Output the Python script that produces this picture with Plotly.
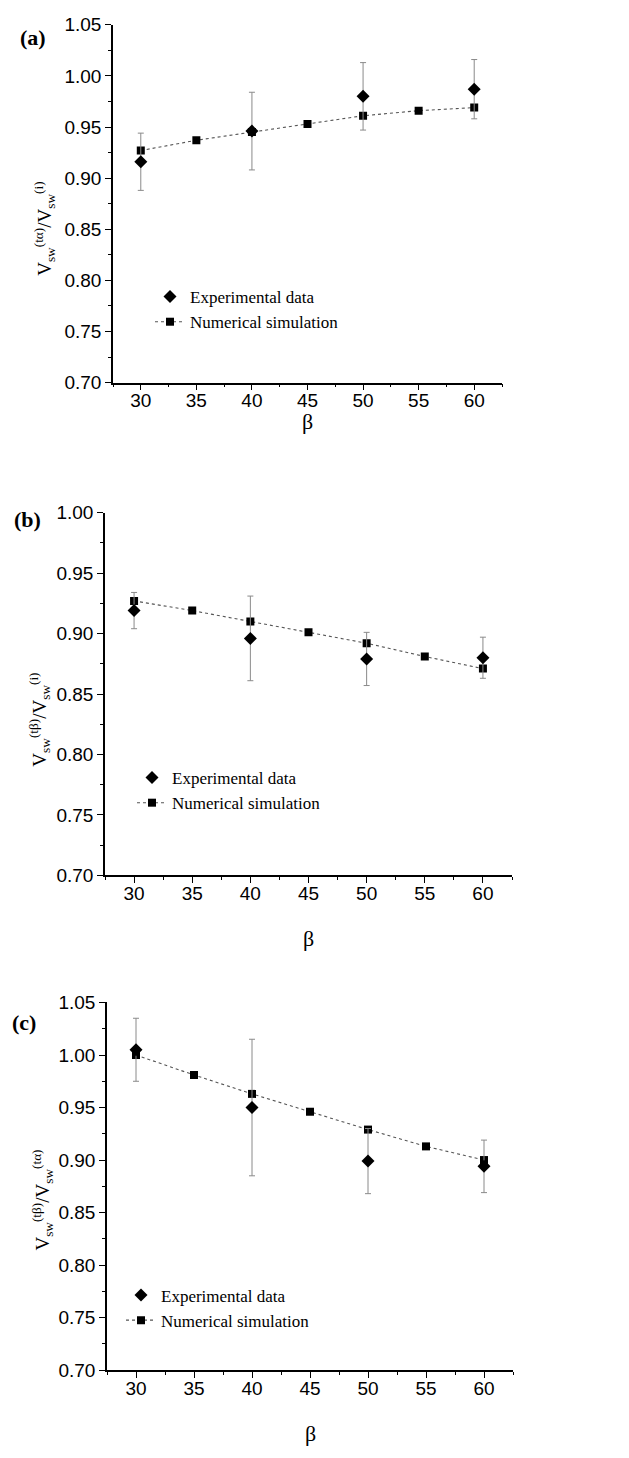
import plotly.graph_objects as go

# Angle beta (degrees)
beta_sim = [30, 35, 40, 45, 50, 55, 60]
beta_exp = [30, 40, 50, 60]

# (a) V_sw^(tα) / V_sw^(i)
a_sim = [0.927, 0.937, 0.945, 0.953, 0.961, 0.966, 0.969]
a_exp = [0.916, 0.946, 0.980, 0.987]
a_err = [0.028, 0.038, 0.033, 0.029]

# (b) V_sw^(tβ) / V_sw^(i)
b_sim = [0.927, 0.919, 0.910, 0.901, 0.892, 0.881, 0.871]
b_exp = [0.919, 0.896, 0.879, 0.880]
b_err = [0.015, 0.035, 0.022, 0.017]

# (c) V_sw^(tβ) / V_sw^(tα)
c_sim = [1.000, 0.981, 0.963, 0.946, 0.929, 0.913, 0.900]
c_exp = [1.005, 0.950, 0.899, 0.894]
c_err = [0.030, 0.065, 0.031, 0.025]

panel_labels = ["(a)", "(b)", "(c)"]
y_titles = [
    "V<sub>sw</sub><sup>(tα)</sup>/V<sub>sw</sub><sup>(i)</sup>",
    "V<sub>sw</sub><sup>(tβ)</sup>/V<sub>sw</sub><sup>(i)</sup>",
    "V<sub>sw</sub><sup>(tβ)</sup>/V<sub>sw</sub><sup>(tα)</sup>",
]
y_ranges = [[0.70, 1.05], [0.70, 1.00], [0.70, 1.05]]

W, H = 629, 1458

# plot-area boxes in pixels: (left, right, top, bottom)
boxes = [(113, 502, 15, 378), (105, 512, 510, 878), (107, 513, 1007, 1380)]
legend_pos = [(150, 273), (132, 761), (121, 1286)]
label_pos = [(33, 28), (27, 517), (24, 1027)]
ytitle_pos = [(45, 222), (40, 720), (43, 1208)]
xtitle_y = [418, 942, 1444]

serif = "Liberation Serif, Times New Roman, serif"
sans = "Liberation Sans, Arial, sans-serif"

fig = go.Figure()
sims = [a_sim, b_sim, c_sim]
exps = [a_exp, b_exp, c_exp]
errs = [a_err, b_err, c_err]

layout = dict(
    width=W, height=H,
    margin=dict(l=0, r=0, t=0, b=0),
    paper_bgcolor="white", plot_bgcolor="white",
    showlegend=True,
    annotations=[],
)


def note(text, x, y, size, angle=0):
    return dict(
        text=text, x=x / W, y=1 - y / H, textangle=angle,
        xref="paper", yref="paper", xanchor="center", yanchor="middle",
        showarrow=False, font=dict(family=serif, size=size, color="black"),
    )


for i in range(3):
    sfx = "" if i == 0 else str(i + 1)
    xa, ya = "x" + sfx, "y" + sfx
    leg = "legend" + sfx
    fig.add_trace(go.Scatter(
        x=beta_sim, y=sims[i], mode="lines+markers",
        name="Numerical simulation", xaxis=xa, yaxis=ya, legend=leg,
        legendrank=2,
        line=dict(color="#555555", width=1.1, dash="dot"),
        marker=dict(symbol="square", size=8, color="black"),
    ))
    fig.add_trace(go.Scatter(
        x=beta_exp, y=exps[i], mode="markers",
        name="Experimental data", xaxis=xa, yaxis=ya, legend=leg,
        legendrank=1,
        marker=dict(symbol="diamond", size=10, color="black"),
        error_y=dict(type="data", array=errs[i], visible=True,
                     color="#8a8a8a", thickness=1, width=3),
    ))

    l, r, t, b = boxes[i]
    axis_common = dict(
        showline=True, linecolor="black", linewidth=1.5,
        ticks="outside", ticklen=6, tickwidth=1.2, tickcolor="black",
        showgrid=False, zeroline=False,
        tickfont=dict(family=sans, size=19, color="black"),
    )
    layout["xaxis" + sfx] = dict(
        axis_common,
        domain=[l / W, r / W], anchor=ya, range=[27.5, 62.5],
        tickmode="linear", tick0=30, dtick=5, ticklabelstandoff=-6,
        minor=dict(ticks="outside", ticklen=3, tickwidth=1, tickcolor="black", dtick=2.5, tick0=27.5),
    )
    layout["yaxis" + sfx] = dict(
        axis_common,
        domain=[1 - b / H, 1 - t / H], anchor=xa, range=y_ranges[i],
        tickmode="linear", tick0=0.70, dtick=0.05, tickformat=".2f",
        minor=dict(ticks="outside", ticklen=3, tickwidth=1, tickcolor="black", dtick=0.025, tick0=0.70),
    )
    lx, ly = legend_pos[i]
    layout[leg] = dict(
        x=lx / W, y=1 - ly / H, xanchor="left", yanchor="top",
        bgcolor="rgba(0,0,0,0)", borderwidth=0,
        font=dict(family=serif, size=17, color="black"),
        tracegroupgap=0, itemwidth=30,
    )
    px, py = label_pos[i]
    layout["annotations"].append(note("<b>" + panel_labels[i] + "</b>", px, py, 22))
    tx, ty = ytitle_pos[i]
    layout["annotations"].append(note(y_titles[i], tx, ty, 19, angle=-90))
    layout["annotations"].append(note("β", (l + r) / 2, xtitle_y[i], 22))

fig.update_layout(**layout)
fig.write_html("out.html")
